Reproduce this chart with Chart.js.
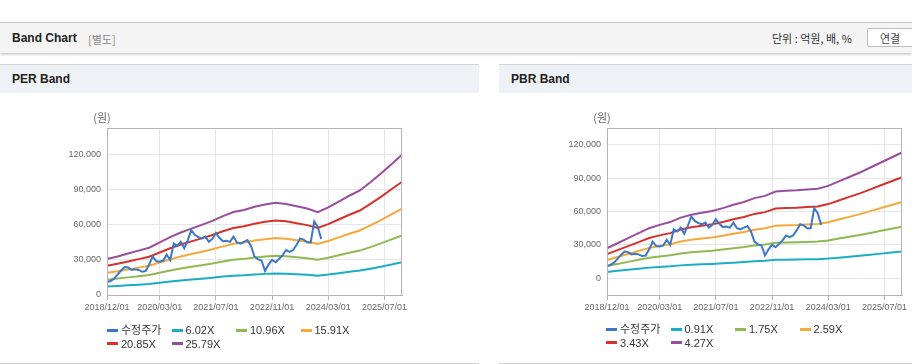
<!DOCTYPE html>
<html>
<head>
<meta charset="utf-8">
<script src="https://cdn.jsdelivr.net/npm/chart.js@4.4.1/dist/chart.umd.min.js"></script>
<style>
    body { margin: 0; width: 912px; height: 364px; overflow: hidden; background: #fff; position: relative;
           font-family: "Liberation Sans", "Noto Sans CJK KR", sans-serif; color: #222; }
    .topbar { position: absolute; left: 0; top: 22px; width: 912px; height: 30px; background: #f4f4f4;
              border-top: 1px solid #c6c6c6; box-shadow: 0 2px 2px rgba(0,0,0,0.18); }
    .topbar .title { position: absolute; left: 12px; top: 8px; font-size: 12px; font-weight: bold; }
    .topbar .sub { position: absolute; left: 88px; top: 8px; font-size: 11px; color: #888; font-family: "Noto Sans CJK KR", sans-serif; }
    .topbar .unit { position: absolute; left: 772px; top: 7px; font-size: 11px; color: #333; font-family: "Noto Sans CJK KR", sans-serif; }
    .topbar .btn { position: absolute; left: 867px; top: 5px; width: 52px; height: 19px; background: #fff; border: 1px solid #bdbdbd;
                   border-radius: 2px; font-size: 11px; color: #444; font-family: "Noto Sans CJK KR", sans-serif; line-height: 19px; padding-left: 12px; box-sizing: border-box; }
    .panel { position: absolute; top: 64px; height: 298px; border-top: 1px solid #d6d6d6; border-bottom: 1px solid #d0d0d0; }
    .panel .head { height: 28px; background: #eef2f6; font-size: 12px; font-weight: bold; line-height: 28px; padding-left: 12px; }
    canvas { position: absolute; }
    .legend { position: absolute; font-size: 11px; color: #333; }
    .legend .item { position: absolute; height: 13px; line-height: 13px; white-space: nowrap; }
    .legend .mark { display: inline-block; width: 11px; height: 3px; vertical-align: middle; margin-right: 3px; margin-top: -2px; }
</style>
</head>
<body>
<div class="topbar">
    <span class="title">Band Chart</span>
    <span class="sub">[별도]</span>
    <span class="unit">단위 : 억원, 배, %</span>
    <span class="btn">연결</span>
</div>
<div class="panel" style="left:0;width:479px"><div class="head">PER Band</div></div>
<div class="panel" style="left:499px;width:413px"><div class="head">PBR Band</div></div>
<canvas id="perChart" width="420" height="215" style="left:0;top:110px"></canvas>
<canvas id="pbrChart" width="413" height="215" style="left:499px;top:110px"></canvas>
<div class="legend" id="perLegend" style="left:107px;top:324px"></div>
<div class="legend" id="pbrLegend" style="left:606px;top:323px"></div>
<script>
// monthly categories 2018/12 .. 2025/12
const MONTHS = [];
for (let y = 2018, m = 12; MONTHS.length < 85; m++) {
    if (m > 12) { m = 1; y++; }
    MONTHS.push(y + '/' + String(m).padStart(2, '0') + '/01');
}
const BAND_MONTHS = MONTHS.filter((d, i) => i % 3 === 0);
const X_TICKS = ['2018/12/01', '2020/03/01', '2021/07/01', '2022/11/01', '2024/03/01', '2025/07/01'];
const Y_TICKS = [0, 30000, 60000, 90000, 120000];

// 수정주가 (monthly, from 2018/12)
const PRICE = [
    11000, 12000, 14000, 17500, 21000, 24000, 23500, 21500, 22000, 21500, 20000, 20500,
    26000, 33000, 29000, 28500, 29500, 34500, 30000, 44000, 42000, 45500, 40000, 47000,
    55500, 51500, 49500, 48500, 50000, 45500, 48000, 53000, 49000, 46000, 46500, 45500,
    50000, 45000, 44000, 45500, 47000, 42000, 33000, 30500, 29500, 20500, 26000, 30000,
    28000, 31000, 34000, 38500, 37000, 38500, 43000, 48500, 47500, 45000, 45000, 63000,
    58500, 48000
];

// PER bands (quarterly points)
const PER_LABELS = ['6.02X', '10.96X', '15.91X', '20.85X', '25.79X'];
const PER_1 = [7210, 7700, 8290, 8870, 9450, 10500, 11550, 12490, 13260, 14000, 14820, 15760, 16570, 16990, 17620,
    18090, 18440, 18210, 17740, 17270, 16570, 17510, 18670, 19840, 20890, 22520, 24270, 26140, 28010];
const PER_2 = [13130, 14030, 15090, 16150, 17210, 19130, 21040, 22740, 24140, 25500, 26990, 28690, 30180, 30940, 32090,
    32940, 33580, 33150, 32300, 31450, 30180, 31880, 34000, 36130, 38040, 41010, 44200, 47600, 51000];
const PER_3 = [19060, 20360, 21900, 23440, 24980, 27760, 30540, 33000, 35040, 37010, 39170, 41640, 43800, 44910, 46580,
    47810, 48740, 48120, 46890, 45650, 43800, 46270, 49350, 52440, 55210, 59530, 64160, 69090, 74030];
const PER_4 = [24980, 26680, 28700, 30720, 32740, 36380, 40020, 43250, 45920, 48510, 51340, 54570, 57400, 58860, 61040,
    62660, 63870, 63060, 61450, 59830, 57400, 60640, 64680, 68720, 72360, 78020, 84080, 90550, 97020];
const PER_5 = [30900, 33000, 35500, 38000, 40500, 45000, 49500, 53500, 56800, 60000, 63500, 67500, 71000, 72800, 75500,
    77500, 79000, 78000, 76000, 74000, 71000, 75000, 80000, 85000, 89500, 96500, 104000, 112000, 120000];

// PBR bands (quarterly points)
const PBR_LABELS = ['0.91X', '1.75X', '2.59X', '3.43X', '4.27X'];
const PBR_1 = [5750, 6710, 7670, 8630, 9590, 10230, 10760, 11610, 12150, 12530, 12890, 13430, 14060, 14600, 15340,
    15770, 16620, 16750, 16830, 17000, 17130, 17690, 18540, 19390, 20240, 21200, 22160, 23120, 24080];
const PBR_2 = [11060, 12910, 14750, 16600, 18440, 19670, 20690, 22330, 23360, 24100, 24790, 25820, 27050, 28070, 29510,
    30330, 31960, 32210, 32370, 32700, 32950, 34010, 35650, 37290, 38930, 40780, 42620, 44460, 46310];
const PBR_3 = [16380, 19110, 21840, 24570, 27300, 29120, 30630, 33060, 34580, 35670, 36700, 38220, 40040, 41550, 43680,
    44890, 47310, 47680, 47920, 48410, 48770, 50350, 52770, 55200, 57630, 60360, 63090, 65820, 68550];
const PBR_4 = [21690, 25300, 28920, 32530, 36150, 38560, 40570, 43780, 45790, 47230, 48600, 50610, 53020, 55030, 57840,
    59440, 62660, 63140, 63460, 64100, 64590, 66670, 69890, 73100, 76310, 79930, 83540, 87160, 90770];
const PBR_5 = [27000, 31500, 36000, 40500, 45000, 48000, 50500, 54500, 57000, 58800, 60500, 63000, 66000, 68500, 72000,
    74000, 78000, 78600, 79000, 79800, 80400, 83000, 87000, 91000, 95000, 99500, 104000, 108500, 113000];

const COLORS = ['#3d78c6', '#19aec3', '#8fba50', '#f5a93b', '#d6322b', '#994d9f'];

// plot box + (원) label
const plotFrame = {
    id: 'plotFrame',
    afterDraw(chart) {
        const { ctx, chartArea: a } = chart;
        ctx.save();
        ctx.strokeStyle = '#b4b4b4';
        ctx.lineWidth = 1;
        ctx.strokeRect(Math.round(a.left) + 0.5, Math.round(a.top) + 0.5,
            Math.round(a.right - a.left) - 1, Math.round(a.bottom - a.top));
        ctx.fillStyle = '#666';
        ctx.font = '11px "Noto Sans CJK KR"';
        ctx.textAlign = 'center';
        ctx.textBaseline = 'middle';
        ctx.fillText('(원)', a.left - 5, a.top - 10);
        ctx.restore();
    }
};

function makeChart(id, legendId, bands, labels, yMin, yMax, padRight) {
    const datasets = [{
        label: '수정주가',
        data: PRICE.map((v, i) => ({ x: MONTHS[i], y: v })),
        borderColor: COLORS[0]
    }];
    bands.forEach((arr, k) => {
        datasets.push({
            label: labels[k],
            data: arr.map((v, i) => ({ x: BAND_MONTHS[i], y: v })),
            borderColor: COLORS[k + 1]
        });
    });
    datasets.forEach(d => { d.borderWidth = 2; d.pointRadius = 0; d.tension = 0; d.fill = false; });

    new Chart(document.getElementById(id), {
        type: 'line',
        data: { labels: MONTHS, datasets: datasets },
        options: {
            responsive: false,
            animation: false,
            layout: { padding: { top: 18, right: padRight, left: 0, bottom: 0 } },
            plugins: { legend: { display: false }, tooltip: { enabled: false } },
            scales: {
                x: {
                    type: 'category',
                    afterBuildTicks: function (scale) {
                        scale.ticks = X_TICKS.map(t => ({ value: MONTHS.indexOf(t) }));
                    },
                    afterFit: function (scale) { scale.height = 30; },
                    grid: { color: '#e6e6e6', tickColor: '#b4b4b4', tickLength: 5 },
                    border: { color: '#b4b4b4' },
                    ticks: {
                        autoSkip: false, maxRotation: 0, padding: 2, color: '#666',
                        font: { family: 'Liberation Sans', size: 9 }
                    }
                },
                y: {
                    min: yMin,
                    max: yMax,
                    afterBuildTicks: function (scale) {
                        scale.ticks = Y_TICKS.map(v => ({ value: v }));
                    },
                    afterFit: function (scale) { scale.width = id === 'perChart' ? 107 : 108; },
                    grid: { color: '#e6e6e6', drawTicks: false },
                    border: { color: '#b4b4b4' },
                    ticks: {
                        padding: 6, color: '#666',
                        font: { family: 'Liberation Sans', size: 9 },
                        callback: function (value) { return value.toLocaleString('en-US'); }
                    }
                }
            }
        },
        plugins: [plotFrame]
    });

    // legend: 4 fixed columns
    const box = document.getElementById(legendId);
    datasets.forEach((d, i) => {
        const item = document.createElement('div');
        item.className = 'item';
        item.style.left = (i % 4) * 64.5 + 'px';
        item.style.top = Math.floor(i / 4) * 13.5 + 'px';
        item.innerHTML = '<span class="mark" style="background:' + d.borderColor + '"></span>' + d.label;
        box.appendChild(item);
    });
}

makeChart('perChart', 'perLegend', [PER_1, PER_2, PER_3, PER_4, PER_5], PER_LABELS, 0, 143000, 18);
makeChart('pbrChart', 'pbrLegend', [PBR_1, PBR_2, PBR_3, PBR_4, PBR_5], PBR_LABELS, -15000, 135000, 10);
</script>
</body>
</html>
